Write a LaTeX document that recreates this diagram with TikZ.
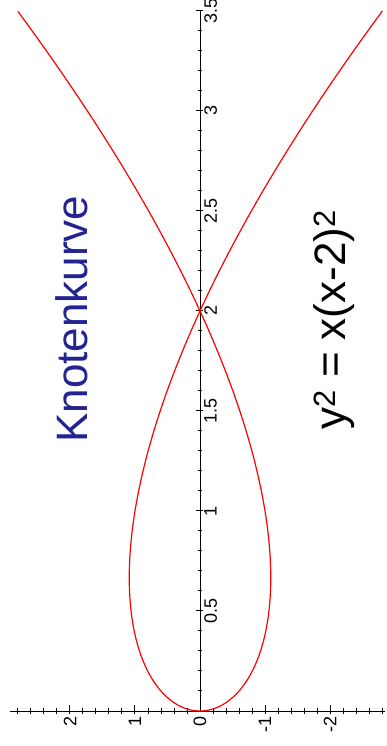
\documentclass[tikz,border=0pt]{standalone}
\usepackage{fontspec}
\setmainfont{Liberation Sans}
\definecolor{knotblue}{RGB}{35, 35, 145}
\definecolor{curvered}{RGB}{255, 0, 0}
\usepackage{tikz}

\tikzset{
  axisline/.style={line width=1pt, black},
  knotcurve/.style={line width=1.2pt, curvered},
  ticklab/.style={font=\fontsize{18}{18}\selectfont, rotate=90, inner sep=0pt},
  bigtext/.style={font=\fontsize{44}{44}\selectfont, rotate=90, anchor=base west, inner sep=0pt}
}

\begin{document}
\begin{tikzpicture}[x=1pt, y=1pt]
  \useasboundingbox (-200,-35) rectangle (186,711);

  % Axes (plot turned by 90 degrees)
  \coordinate (o) at (0,0);
  \coordinate (xtop) at (0,700);
  \coordinate (yleft) at (-190,0);
  \coordinate (yright) at (185,0);
  \draw[axisline] (yleft) -- (yright);
  \draw[axisline] (o) -- (xtop);

  % Ticks on the x axis
  \foreach \k in {1,...,35}
    \draw[axisline] (-2,20*\k) -- (2,20*\k);
  \foreach \k in {1,...,7}
    \draw[axisline] (-4,100*\k) -- (3,100*\k);

  % Ticks on the y axis
  \foreach \k in {-14,...,-1,1,2,...,14}
    \draw[axisline] (13*\k,-3) -- (13*\k,3);
  \foreach \k in {-2,-1,1,2}
    \draw[axisline] (65*\k,-3) -- (65*\k,6);

  % Tick labels
  \foreach \v [count=\k] in {0.5,1,1.5,2,2.5,3,3.5}
    \node[ticklab, anchor=north] (xl\k) at (4,100*\k) {\v};
  \foreach \v/\p [count=\k] in {2/-130, 1/-65, 0/0, -1/65, -2/130}
    \node[ticklab, anchor=east] (yl\k) at (\p,-5) {\v};

  % Curve y^2 = x(x-2)^2
  \draw[knotcurve] plot[domain=-1.8708:1.8708, samples=160, smooth, variable=\t]
    ({-65*\t*(\t*\t-2)}, {200*\t*\t});

  % Texts
  \node[bigtext, text=knotblue] (title) at (-112,268) {Knotenkurve};
  \node[bigtext] (eqn) at (145,281) {y\textsuperscript{2} = x(x-2)\textsuperscript{2}};
\end{tikzpicture}
\end{document}
